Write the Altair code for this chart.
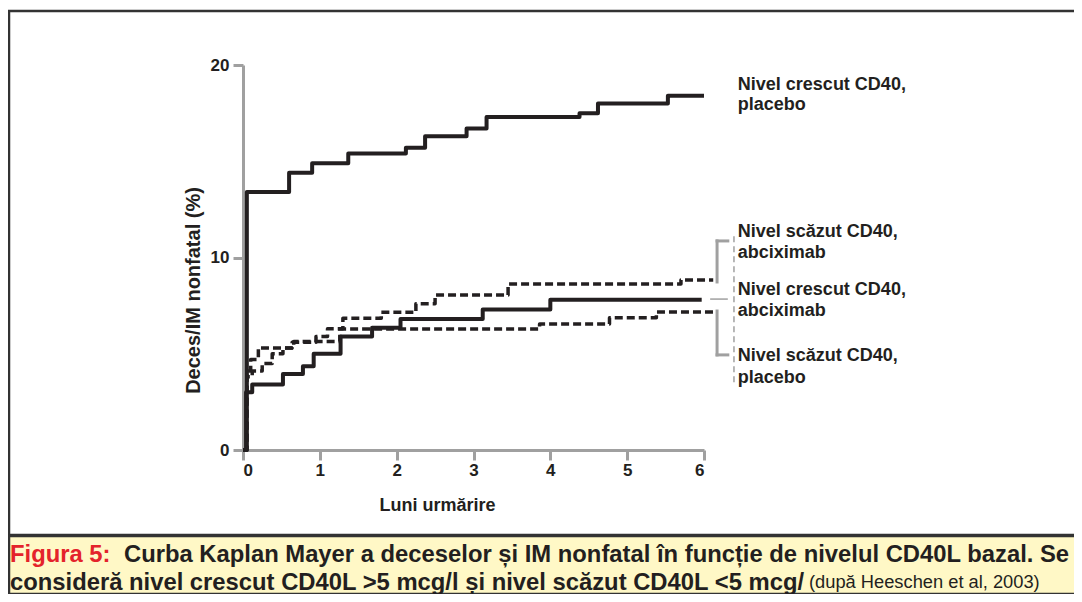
import altair as alt
import pandas as pd

FONT = "Liberation Sans"
INK = "#231f20"
GRAY = "#a0a0a0"

# ---- data (months, % death / non-fatal MI) ----
hp_t = [0, 0.05, 0.6, 0.9, 1.37, 2.12, 2.37, 2.91, 3.17, 4.38, 4.62, 5.53, 6.0]
hp_v = [0, 13.4, 14.4, 14.9, 15.4, 15.7, 16.3, 16.7, 17.3, 17.5, 18.0, 18.4, 18.4]

ha_t = [0, 0.04, 0.12, 0.52, 0.78, 0.92, 1.27, 1.68, 2.05, 3.12, 4.0, 5.97]
ha_v = [0, 3.0, 3.4, 3.95, 4.35, 5.0, 5.9, 6.35, 6.8, 7.3, 7.8, 7.8]

la_t = [0, 0.05, 0.1, 0.2, 0.64, 0.95, 1.1, 1.3, 1.8, 2.25, 2.5, 3.45, 5.7, 6.12]
la_v = [0, 4.1, 4.7, 5.3, 5.6, 5.9, 6.3, 6.84, 7.15, 7.6, 8.05, 8.62, 8.83, 8.83]

lp_t = [0, 0.05, 0.12, 0.25, 0.38, 0.52, 0.66, 1.26, 3.86, 4.77, 5.38, 6.12]
lp_v = [0, 3.8, 4.1, 4.5, 5.0, 5.3, 5.63, 6.28, 6.54, 6.87, 7.17, 7.17]

x_ticks = [0, 1, 2, 3, 4, 5, 6]
y_ticks = [0, 10, 20]

label_text = ["Nivel crescut CD40,", "placebo",
              "Nivel scăzut CD40,", "abciximab",
              "Nivel crescut CD40,", "abciximab",
              "Nivel scăzut CD40,", "placebo"]
label_v = [18.96, 17.92, 11.32, 10.23, 8.31, 7.22, 4.88, 3.74]

caption_red = "Figura 5:"
caption_1 = "Curba Kaplan Mayer a deceselor și IM nonfatal în funcție de nivelul CD40L bazal. Se"
caption_2 = "consideră nivel crescut CD40L >5 mcg/l și nivel scăzut CD40L <5 mcg/"
caption_src = "(după Heeschen et al, 2003)"

# ---- layout constants ----
LABEL_X = 6.44
xs = alt.Scale(domain=[0, 6], nice=False)
ys = alt.Scale(domain=[0, 20], nice=False)

x_axis = alt.Axis(values=x_ticks, format="d", title="Luni urmărire", grid=False,
                  titleX=194, titleY=55, titleBaseline="middle", titleFont=FONT,
                  titleFontSize=18, titleFontWeight="bold", titleColor=INK,
                  labelFont=FONT, labelFontSize=17, labelFontWeight="bold", labelColor=INK,
                  labelPadding=2, domainColor=GRAY, domainWidth=3, tickColor=GRAY,
                  tickWidth=3, tickSize=10)
y_axis = alt.Axis(values=y_ticks, format="d", title="Deces/IM nonfatal (%)", grid=False,
                  titleX=-50, titleY=225, titleBaseline="middle", titleAlign="center",
                  titleFont=FONT, titleFontSize=20, titleFontWeight="bold", titleColor=INK,
                  labelFont=FONT, labelFontSize=17, labelFontWeight="bold", labelColor=INK,
                  labelPadding=4, domainColor=GRAY, domainWidth=3, tickColor=GRAY,
                  tickWidth=3, tickSize=10)


def X(f):
    return alt.X(f, scale=xs, axis=x_axis)


def Y(f):
    return alt.Y(f, scale=ys, axis=y_axis)


def curve(t, v, dashed):
    df = pd.DataFrame({"t": t, "v": v})
    kw = dict(interpolate="step-after", color=INK, strokeJoin="round", clip=False)
    if dashed:
        kw.update(strokeWidth=3.5, strokeDash=[8, 4])
    else:
        kw.update(strokeWidth=4)
    return alt.Chart(df).mark_line(**kw).encode(x=X("t:Q"), y=Y("v:Q"))


one = pd.DataFrame({"k": [0]})

frame = alt.Chart(one).mark_rect(filled=False, stroke="#333333", strokeWidth=2.5).encode(
    x=alt.value(-234), x2=alt.value(834), y=alt.value(-54), y2=alt.value(470))
cap_box = alt.Chart(one).mark_rect(fill="#fff8c6", stroke="#333333", strokeWidth=2.5).encode(
    x=alt.value(-234), x2=alt.value(834), y=alt.value(471), y2=alt.value(529))


def ctext(s, x, y, color=INK, size=23.8, weight="bold"):
    return alt.Chart(one).mark_text(align="left", baseline="middle", font=FONT, fontSize=size,
                                    fontWeight=weight, color=color).encode(
        x=alt.value(x), y=alt.value(y), text=alt.value(s))


cap = (ctext(caption_red, -233, 490, color="#e4232b")
       + ctext(caption_1, -119, 490)
       + ctext(caption_2, -233, 518)
       + ctext(caption_src, 566, 518, size=18.3, weight="normal"))

labels_df = pd.DataFrame({"t": [LABEL_X] * len(label_text), "v": label_v, "s": label_text})
labels = alt.Chart(labels_df).mark_text(align="left", baseline="middle", font=FONT, fontSize=18,
                                       fontWeight="bold", color=INK).encode(
    x=X("t:Q"), y=Y("v:Q"), text="s:N")

# bracket annotation segments (data units)
br = pd.DataFrame({
    "t": [6.17, 6.17, 6.17, 6.17],
    "t2": [6.17, 6.31, 6.17, 6.31],
    "v": [10.86, 10.86, 7.22, 4.94],
    "v2": [8.73, 10.86, 4.94, 4.94],
})
brackets = alt.Chart(br).mark_rule(color=GRAY, strokeWidth=3, strokeCap="square").encode(
    x=X("t:Q"), x2="t2:Q", y=Y("v:Q"), y2="v2:Q")
mid = pd.DataFrame({"t": [6.08], "t2": [6.31], "v": [7.84]})
mid_rule = alt.Chart(mid).mark_rule(color=GRAY, strokeWidth=1.5).encode(
    x=X("t:Q"), x2="t2:Q", y=Y("v:Q"))
dv = pd.DataFrame({"t": [6.39], "v": [11.1], "v2": [3.38]})
dash_rule = alt.Chart(dv).mark_rule(color=GRAY, strokeWidth=1.5, strokeDash=[6, 4]).encode(
    x=X("t:Q"), y=Y("v:Q"), y2="v2:Q")

chart = alt.layer(
    frame, cap_box, cap,
    curve(hp_t, hp_v, False),
    curve(ha_t, ha_v, False),
    curve(la_t, la_v, True),
    curve(lp_t, lp_v, True),
    brackets, mid_rule, dash_rule, labels,
).properties(
    width=461, height=385,
    padding={"left": 235, "top": 57, "right": 370, "bottom": 144},
    autosize="none",
).configure_view(strokeWidth=0)

chart.save("out.html", embed_options={"renderer": "svg", "actions": False})
